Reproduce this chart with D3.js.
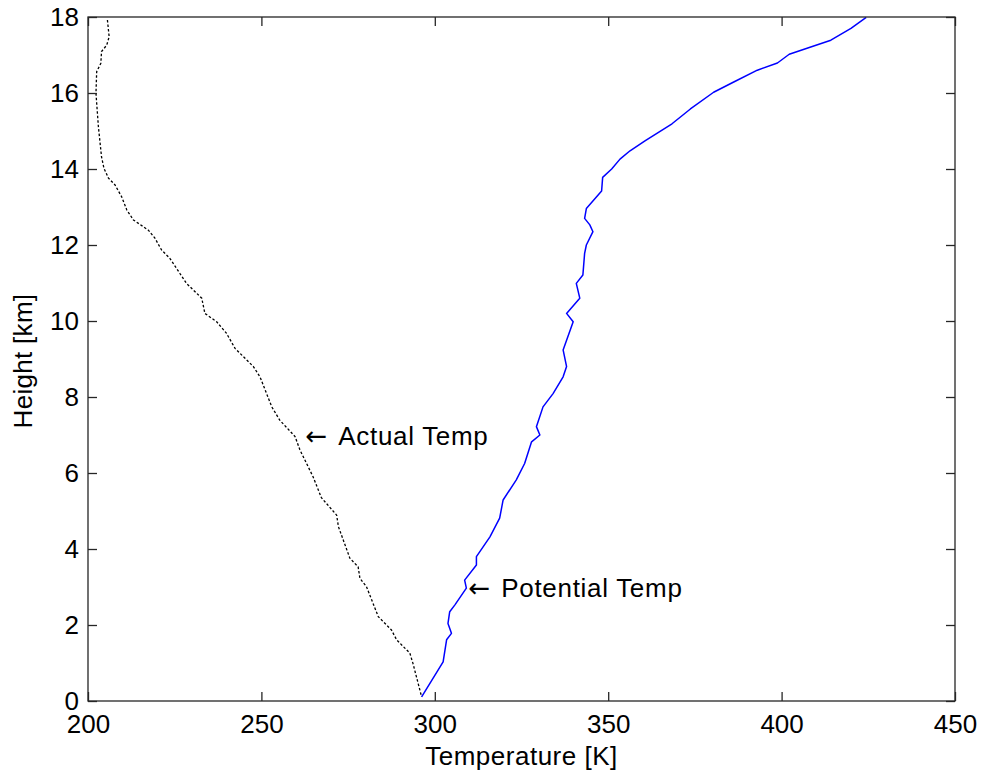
<!DOCTYPE html>
<html>
<head>
<meta charset="utf-8">
<script src="https://cdn.jsdelivr.net/npm/d3@7"></script>
<style>
  html, body { margin: 0; padding: 0; background: #fff; }
  text { font-family: "Liberation Sans", Arial, sans-serif; fill: #000; }
</style>
</head>
<body>
<svg id="chart" width="982" height="773"></svg>
<script>
// ---- data (Temperature [K], Height [km]) ----
const actualT = [205.6, 206.1, 205.4, 203.9, 203.7, 202.5, 202.3, 203.0, 203.9, 204.6, 205.9, 207.8, 209.7, 211.2, 213.1, 217.4, 219.3, 221.2, 223.6, 226.5, 228.4, 232.8, 233.7, 237.1, 239.9, 242.4, 247.7, 249.6, 253.0, 255.3, 259.7, 261.1, 264.9, 267.3, 271.7, 272.2, 275.5, 277.9, 278.4, 280.3, 283.7, 287.5, 289.0, 292.8, 293.7, 296.2];
const actualH = [17.92, 17.48, 17.26, 17.09, 16.78, 16.56, 15.99, 15.11, 14.32, 14.02, 13.76, 13.58, 13.27, 12.92, 12.66, 12.39, 12.18, 11.87, 11.65, 11.25, 10.99, 10.60, 10.20, 9.98, 9.68, 9.28, 8.80, 8.53, 7.74, 7.39, 6.96, 6.61, 5.90, 5.35, 4.89, 4.59, 3.76, 3.53, 3.23, 3.01, 2.22, 1.87, 1.61, 1.26, 0.99, 0.11];

const potT = [296.2, 302.4, 303.4, 304.8, 303.8, 304.3, 305.8, 309.1, 308.6, 312.0, 312.0, 315.9, 318.7, 319.7, 323.5, 325.9, 327.9, 330.3, 329.3, 331.2, 334.1, 337.0, 338.0, 337.0, 339.9, 338.0, 341.8, 340.8, 342.7, 343.2, 343.7, 345.6, 344.7, 343.2, 343.7, 348.1, 348.4, 351.0, 353.4, 356.3, 360.6, 368.4, 373.7, 380.4, 386.2, 393.0, 398.8, 402.2, 408.4, 414.2, 420.0, 424.4];
const potH = [0.11, 1.03, 1.61, 1.78, 2.04, 2.35, 2.53, 2.97, 3.18, 3.58, 3.80, 4.32, 4.81, 5.29, 5.82, 6.25, 6.82, 7.00, 7.22, 7.74, 8.09, 8.53, 8.80, 9.24, 9.98, 10.20, 10.60, 10.99, 11.21, 11.78, 12.00, 12.35, 12.53, 12.70, 12.96, 13.42, 13.78, 14.00, 14.26, 14.48, 14.74, 15.19, 15.58, 16.02, 16.29, 16.60, 16.79, 17.02, 17.21, 17.39, 17.70, 17.99];

const xTicks = [200, 250, 300, 350, 400, 450];
const yTicks = [0, 2, 4, 6, 8, 10, 12, 14, 16, 18];
const xLabel = "Temperature [K]";
const yLabel = "Height [km]";
const annLabels = ["Actual Temp", "Potential Temp"];
const annT = [262.7, 309.7];
const annH = [6.97, 2.97];

// ---- layout ----
const svg = d3.select("#chart");
const L = 88, R = 955, T = 17, B = 701;
const x = d3.scaleLinear().domain([200, 450]).range([L, R]);
const y = d3.scaleLinear().domain([0, 18]).range([B, T]);

svg.append("rect").attr("width", 982).attr("height", 773).attr("fill", "#fff");

const axisColor = "#262626";
const tickLen = 9;
const fs = 26;

// lines
const line = d3.line().x(d => x(d[0])).y(d => y(d[1]));
svg.append("path")
  .datum(actualT.map((t, i) => [t, actualH[i]]))
  .attr("d", line)
  .attr("fill", "none")
  .attr("stroke", "#000")
  .attr("stroke-width", 1.3)
  .attr("stroke-dasharray", "2.5,2");
svg.append("path")
  .datum(potT.map((t, i) => [t, potH[i]]))
  .attr("d", line)
  .attr("fill", "none")
  .attr("stroke", "#0000ff")
  .attr("stroke-width", 1.5)
  .attr("stroke-linejoin", "round");

// axes (inward ticks, box)
svg.append("rect").attr("x", L).attr("y", T).attr("width", R - L).attr("height", B - T)
  .attr("fill", "none").attr("stroke", axisColor).attr("stroke-width", 1.3);

const axB = d3.axisBottom(x).tickValues(xTicks).tickSize(-tickLen).tickPadding(14).tickFormat(d3.format("d"));
const gB = svg.append("g").attr("transform", `translate(0,${B})`).call(axB);
const axT = d3.axisTop(x).tickValues(xTicks).tickSize(-tickLen).tickFormat("");
const gT = svg.append("g").attr("transform", `translate(0,${T})`).call(axT);
const axLft = d3.axisLeft(y).tickValues(yTicks).tickSize(-tickLen).tickPadding(9).tickFormat(d3.format("d"));
const gL = svg.append("g").attr("transform", `translate(${L},0)`).call(axLft);
const axRt = d3.axisRight(y).tickValues(yTicks).tickSize(-tickLen).tickFormat("");
const gR = svg.append("g").attr("transform", `translate(${R},0)`).call(axRt);

[gB, gT, gL, gR].forEach(g => {
  g.select(".domain").remove();
  g.selectAll(".tick line").attr("stroke", axisColor).attr("stroke-width", 1.3);
  g.selectAll(".tick text").attr("fill", "#000").attr("font-size", fs)
    .attr("font-family", "Liberation Sans, Arial, sans-serif");
});
gB.selectAll(".tick text").attr("dy", "0.71em");

// axis labels
svg.append("text").attr("x", (L + R) / 2).attr("y", 765)
  .attr("text-anchor", "middle").attr("font-size", fs).attr("letter-spacing", 0.5).text(xLabel);
svg.append("text").attr("transform", `translate(32,${(T + B) / 2 + 2}) rotate(-90)`)
  .attr("text-anchor", "middle").attr("font-size", fs).attr("letter-spacing", 0.3).text(yLabel);

// annotations
const ann = svg.selectAll(".ann").data(annLabels).enter().append("text")
  .attr("class", "ann")
  .attr("x", (d, i) => x(annT[i]))
  .attr("y", (d, i) => y(annH[i]))
  .attr("dy", "0.35em")
  .attr("font-size", fs);
ann.append("tspan").attr("font-family", "DejaVu Sans").text("\u2190");
ann.append("tspan").attr("dx", 11).attr("letter-spacing", 0.7).text(d => d);
</script>
</body>
</html>
